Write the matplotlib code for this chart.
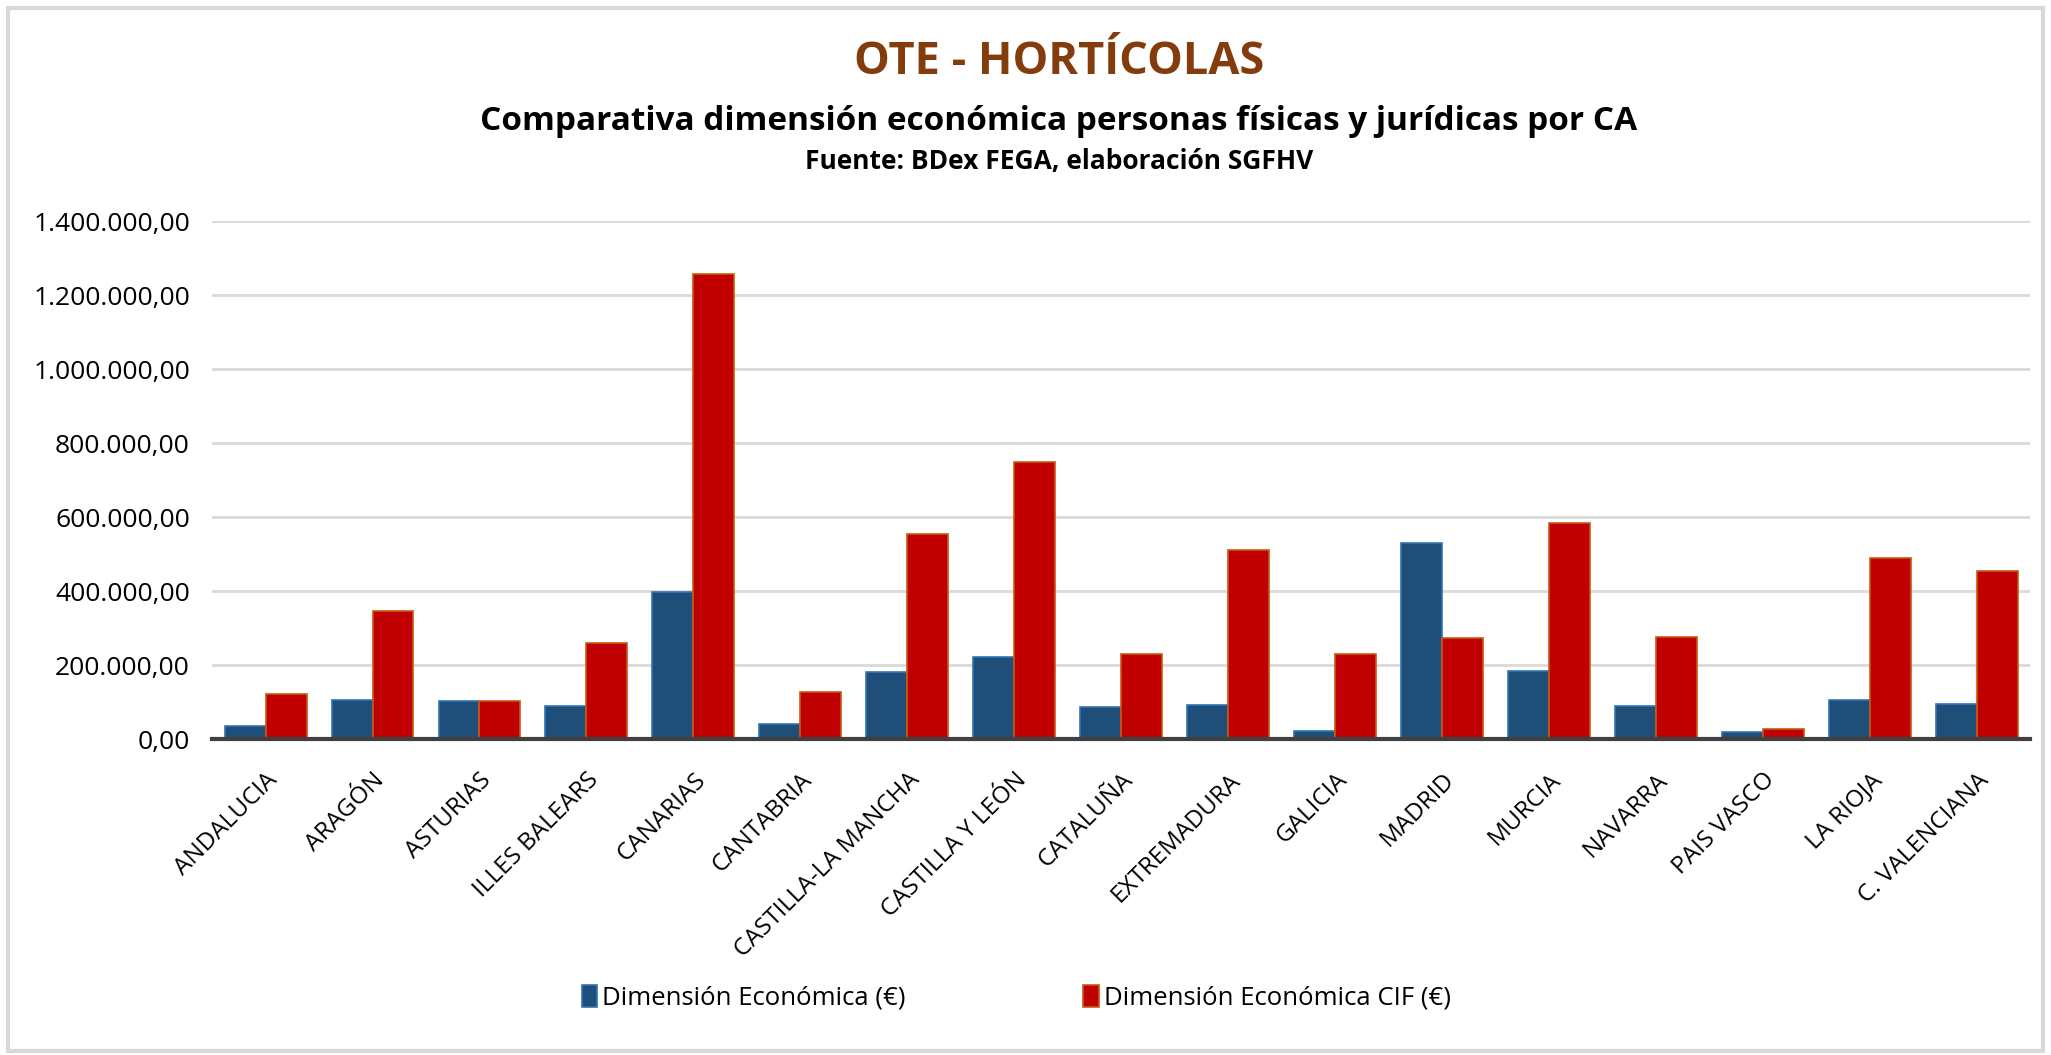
import matplotlib
matplotlib.use("Agg")
import matplotlib.pyplot as plt
import numpy as np
from matplotlib.ticker import FuncFormatter
from matplotlib.patches import Rectangle

plt.rcParams['font.family'] = ['Open Sans', 'DejaVu Sans']

# comunidades autonomas
regiones = ["ANDALUCIA", "ARAGÓN", "ASTURIAS", "ILLES BALEARS", "CANARIAS",
            "CANTABRIA", "CASTILLA-LA MANCHA", "CASTILLA Y LEÓN", "CATALUÑA",
            "EXTREMADURA", "GALICIA", "MADRID", "MURCIA", "NAVARRA",
            "PAIS VASCO", "LA RIOJA", "C. VALENCIANA"]

# dimension economica personas fisicas (€)
dim_eco = [35000, 105000, 103000, 88000, 397000, 40000, 182000, 223000,
           87000, 93000, 23000, 531000, 185000, 90000, 20000, 106000, 96000]

# dimension economica personas juridicas CIF (€)
dim_eco_cif = [123000, 345000, 103000, 260000, 1256000, 128000, 555000,
               750000, 230000, 510000, 229000, 273000, 585000, 277000,
               26000, 490000, 453000]

y_ticks = [0, 200000, 400000, 600000, 800000, 1000000, 1200000, 1400000]


def fmt_es(v, pos=None):
    s = "{:,.2f}".format(v)
    return s.replace(",", "X").replace(".", ",").replace("X", ".")


fig = plt.figure(figsize=(20.51, 10.55), dpi=100)
ax = fig.add_axes([0.1034, 0.2995, 0.8866, 0.491])

x = np.arange(len(regiones))
w = 0.383
ax.bar(x - w / 2, dim_eco, w, color="#1F4E79", edgecolor="#2E75B6",
       linewidth=1.2, label="Dimensión Económica (€)", zorder=3)
ax.bar(x + w / 2, dim_eco_cif, w, color="#C00000", edgecolor="#C55A11",
       linewidth=1.2, label="Dimensión Económica CIF (€)", zorder=3)

ax.set_xlim(-0.5, len(regiones) - 0.5)
ax.set_ylim(0, 1400000)
ax.set_yticks(y_ticks)
ax.yaxis.set_major_formatter(FuncFormatter(fmt_es))
ax.grid(axis="y", color="#D9D9D9", linewidth=2, zorder=0)
ax.set_axisbelow(True)

for s in ["top", "right", "left"]:
    ax.spines[s].set_visible(False)
ax.spines["bottom"].set_color("#404040")
ax.spines["bottom"].set_linewidth(3)
ax.spines["bottom"].set_zorder(4)

ax.tick_params(axis="y", length=0, labelsize=19, pad=16)
ax.tick_params(axis="x", length=0, labelsize=17.5, pad=21)
ax.set_xticks(x)
ax.set_xticklabels(regiones, rotation=45, ha="right", rotation_mode="anchor")

# titulos
cx = 1059 / 2051
fig.text(cx, 1 - 63 / 1055, "OTE - HORTÍCOLAS", ha="center", va="center",
         fontsize=32.5, fontweight="bold", color="#843C0C")
fig.text(cx, 1 - 121 / 1055,
         "Comparativa dimensión económica personas físicas y jurídicas por CA",
         ha="center", va="center", fontsize=24, fontweight="bold")
fig.text(cx, 1 - 162 / 1055, "Fuente: BDex FEGA, elaboración SGFHV",
         ha="center", va="center", fontsize=19, fontweight="bold")

fig.legend(loc="center", bbox_to_anchor=(0.4955, 1 - 998 / 1055), ncol=2,
           frameon=False, fontsize=18.5, columnspacing=6.9, handlelength=0.6,
           handleheight=0.9, handletextpad=0.2)

fig.patches.append(Rectangle((0.004, 0.004), 0.992, 0.988,
                             transform=fig.transFigure, fill=False,
                             edgecolor="#D9D9D9", linewidth=3))

fig.savefig("out.png", dpi=100, facecolor="white")
